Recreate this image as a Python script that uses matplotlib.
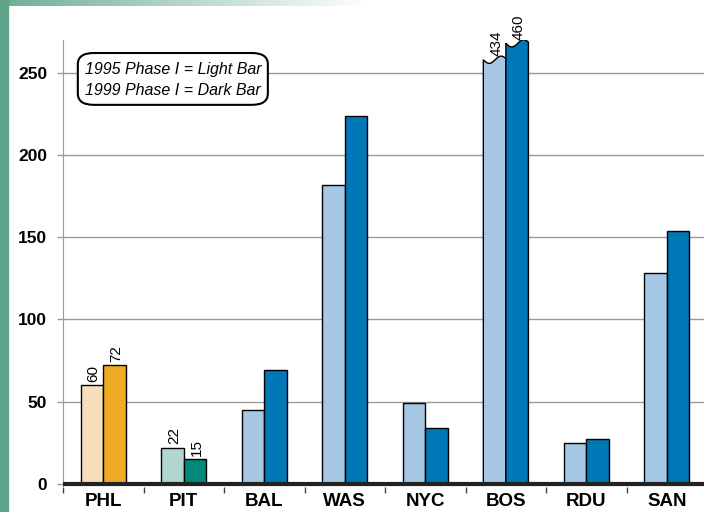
import numpy as np
import matplotlib.pyplot as plt
from matplotlib.colors import LinearSegmentedColormap
from matplotlib.patches import FancyBboxPatch, Polygon, Rectangle

# =========================
# DATA
# =========================
cities = ["PHL", "PIT", "BAL", "WAS", "NYC", "BOS", "RDU", "SAN"]
phase_1995 = [60, 22, 45, 182, 49, 434, 25, 128]
phase_1999 = [72, 15, 69, 224, 34, 460, 27, 154]

# cities whose bars get value labels
labelled = ["PHL", "PIT", "BOS"]

# =========================
# STYLE
# =========================
plt.rcParams["font.family"] = ["Liberation Sans", "DejaVu Sans"]

light_colors = ["#F8DFB9", "#B2D6CF"] + ["#A6C8E4"] * 6
dark_colors = ["#EEAC24", "#00897B"] + ["#0077B6"] * 6

# broken bars are cut at these heights
cap_light = 258
cap_dark = 268

bar_w = 0.28
x = np.arange(len(cities))

fig = plt.figure(figsize=(7.04, 5.12), dpi=100)

# green frame strips
fig.patches.append(Rectangle((0, 0), 0.012, 1, transform=fig.transFigure,
                             color="#5FA58A", zorder=0))
grad = np.linspace(0, 1, 256).reshape(1, -1)
ax_strip = fig.add_axes([0, 0.988, 1, 0.012])
ax_strip.imshow(np.clip(grad * 1.9, 0, 1), aspect="auto",
                cmap=LinearSegmentedColormap.from_list("g", ["#6FAF93", "#FFFFFF"]))
ax_strip.axis("off")

ax = fig.add_axes([0.0895, 0.0488, 0.915, 0.873])


def draw_bar(xc, value, cap, color):
    left = xc - bar_w / 2
    right = xc + bar_w / 2
    if value <= cap:
        ax.bar(xc, value, width=bar_w, color=color, edgecolor="black",
               linewidth=1, zorder=3)
        return value
    # wavy top for a broken bar
    t = np.linspace(0, 1, 40)
    top = cap - 2.2 * np.sin(2 * np.pi * 0.95 * t)
    xs = left + t * bar_w
    pts = [(left, 0)] + list(zip(xs, top)) + [(right, 0)]
    ax.add_patch(Polygon(pts, closed=True, facecolor=color, edgecolor="black",
                         linewidth=1, zorder=3))
    return cap


for i, c in enumerate(cities):
    h1 = draw_bar(x[i] - bar_w / 2, phase_1995[i], cap_light, light_colors[i])
    h2 = draw_bar(x[i] + bar_w / 2, phase_1999[i], cap_dark, dark_colors[i])
    if c in labelled:
        ax.text(x[i] - bar_w / 2 + 0.02, h1 + 2, str(phase_1995[i]), rotation=90,
                ha="center", va="bottom", fontsize=11, zorder=4)
        ax.text(x[i] + bar_w / 2 + 0.02, h2 + 2, str(phase_1999[i]), rotation=90,
                ha="center", va="bottom", fontsize=11, zorder=4)

ax.set_xlim(-0.5, 7.5)
ax.set_ylim(-2, 270)

# gridlines
ax.set_yticks([0, 50, 100, 150, 200, 250])
for yv in [50, 100, 150, 200, 250]:
    ax.axhline(yv, color="#9A9A9A", linewidth=1, zorder=1)
ax.axhline(0, color="#222222", linewidth=3, zorder=5)

ax.set_xticks(x)
ax.set_xticklabels(cities, fontsize=13.5, fontweight="bold")
ax.set_xticks(np.arange(-0.5, 8, 1), minor=True)
ax.tick_params(axis="x", which="major", length=0, pad=4)
ax.tick_params(axis="x", which="minor", length=4.5, color="#444444", width=1)
ax.tick_params(axis="y", length=4, color="#9A9A9A", width=1, pad=7.5,
               labelsize=12.5)
for lab in ax.get_yticklabels():
    lab.set_fontweight("bold")

for s in ["top", "right", "bottom"]:
    ax.spines[s].set_visible(False)
ax.spines["left"].set_color("#9A9A9A")

# legend box
box = FancyBboxPatch((0.023, 0.855), 0.295, 0.116, transform=ax.transAxes,
                     boxstyle="round,pad=0,rounding_size=0.025",
                     facecolor="white", edgecolor="black", linewidth=1.5,
                     zorder=6)
ax.add_patch(box)
ax.text(0.171, 0.933, "1995 Phase I = Light Bar", transform=ax.transAxes,
        ha="center", va="center", fontsize=11.5, style="italic", zorder=7)
ax.text(0.171, 0.888, "1999 Phase I = Dark Bar", transform=ax.transAxes,
        ha="center", va="center", fontsize=11.5, style="italic", zorder=7)

fig.savefig("out.png", dpi=100)
